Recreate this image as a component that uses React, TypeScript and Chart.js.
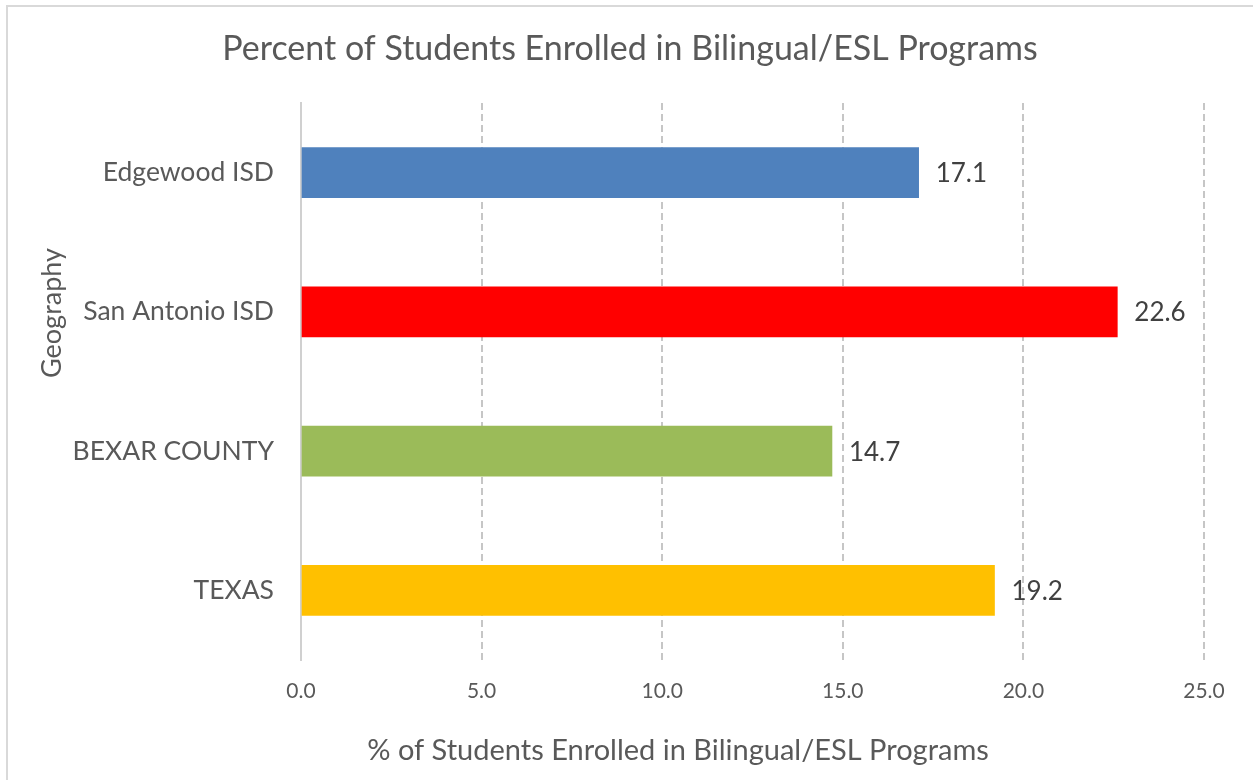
import React, { useEffect, useRef } from "react";
import { Chart, registerables } from "chart.js";

Chart.register(...registerables);

const categories = ["Edgewood ISD", "San Antonio ISD", "BEXAR COUNTY", "TEXAS"];
const values = [17.1, 22.6, 14.7, 19.2];
const barColors = ["#4F81BD", "#FF0000", "#9BBB59", "#FFC000"];
const xMin = 0;
const xMax = 25;
const xStep = 5;
const chartTitle = "Percent of Students Enrolled in Bilingual/ESL Programs";
const xTitle = "% of Students Enrolled in Bilingual/ESL Programs";
const yTitle = "Geography";

const FONT = "Lato, 'Open Sans', sans-serif";
const TEXT = "#595959";

const annotate = {
  id: "annotate",
  afterDatasetsDraw(chart: any) {
    const ctx = chart.ctx;
    const meta = chart.getDatasetMeta(0);
    ctx.save();
    ctx.font = `26px ${FONT}`;
    ctx.fillStyle = "#404040";
    ctx.textAlign = "left";
    ctx.textBaseline = "middle";
    meta.data.forEach((bar: any, i: number) => {
      ctx.fillText(values[i].toFixed(1), bar.x + 17, bar.y + 1);
    });
    ctx.restore();
  },
  afterDraw(chart: any) {
    const ctx = chart.ctx;
    ctx.save();
    ctx.fillStyle = TEXT;
    ctx.textAlign = "center";
    ctx.textBaseline = "alphabetic";
    ctx.font = `34px ${FONT}`;
    ctx.fillText(chartTitle, 630, 60);
    ctx.font = `29px ${FONT}`;
    ctx.fillText(xTitle, 678, 760);
    ctx.font = `27px ${FONT}`;
    ctx.translate(61, 313);
    ctx.rotate(-Math.PI / 2);
    ctx.fillText(yTitle, 0, 0);
    ctx.restore();
  },
};

export default function App() {
  const ref = useRef<HTMLCanvasElement | null>(null);
  useEffect(() => {
    if (!ref.current) return;
    const chart = new Chart(ref.current, {
      type: "bar",
      data: {
        labels: categories,
        datasets: [
          {
            data: values,
            backgroundColor: barColors,
            borderWidth: 0,
            barThickness: 50,
          },
        ],
      },
      plugins: [annotate],
      options: {
        indexAxis: "y",
        animation: false,
        responsive: true,
        maintainAspectRatio: false,
        layout: { padding: { left: 0, right: 49, top: 103, bottom: 0 } },
        plugins: {
          legend: { display: false },
          tooltip: { enabled: false },
          title: { display: false },
        },
        scales: {
          x: {
            min: xMin,
            max: xMax,
            ticks: {
              stepSize: xStep,
              color: TEXT,
              font: { family: FONT, size: 21 },
              padding: 19,
              callback: (v: any) => Number(v).toFixed(1),
            },
            grid: {
              color: "#c6c6c6",
              lineWidth: 2,
              drawTicks: false,
            },
            border: { display: false, dash: [7, 4] },
            afterFit: (scale: any) => {
              scale.height = 120;
            },
          },
          y: {
            ticks: {
              color: TEXT,
              font: { family: FONT, size: 26.5 },
              padding: 27,
            },
            grid: { display: false, drawTicks: false },
            border: { display: true, color: "#d0d0d0", width: 2 },
            afterFit: (scale: any) => {
              scale.width = 301;
            },
          },
        },
      },
    });
    return () => chart.destroy();
  }, []);

  return (
    <>
      <div
        style={{
          position: "fixed",
          left: 6,
          top: 5,
          width: 1270,
          height: 800,
          border: "2px solid #d9d9d9",
          boxSizing: "border-box",
          background: "#fff",
        }}
      />
      <div style={{ position: "fixed", left: 0, top: 0, width: 1253, height: 780 }}>
        <canvas ref={ref} />
      </div>
    </>
  );
}
